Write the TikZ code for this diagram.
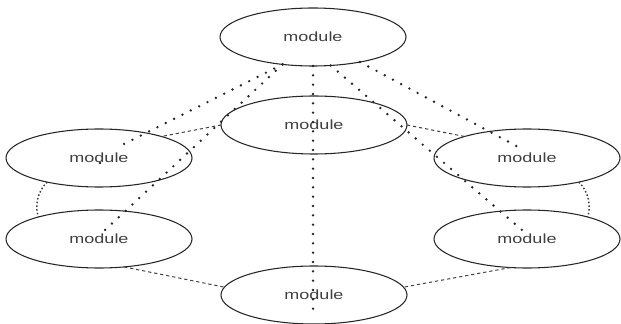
\documentclass[tikz,border=0pt]{standalone}
\usepackage{fontspec}
\setmainfont{Liberation Sans}[FakeStretch=1.35]
\usetikzlibrary{shapes.geometric}
\begin{document}
\begin{tikzpicture}[x=0.75pt,y=-0.75pt,
  mod/.style={ellipse, draw=black!85, line width=0.8pt, minimum width=139.5pt, minimum height=43.5pt, inner sep=0pt, outer sep=0pt, font=\fontsize{10}{12}\selectfont, text=black!75},
  bigdots/.style={line width=2pt, line cap=round, dash pattern=on 0pt off 7pt, draw=black!85},
  fdash/.style={line width=0.75pt, dash pattern=on 2.4pt off 2.2pt, draw=black!75},
  fdot/.style={line width=1.1pt, dash pattern=on 1.2pt off 1.6pt, draw=black!75}]
\useasboundingbox (0,0) rectangle (621,324);
\node[mod] (top) at (313,37) {module};
\node[mod] (mid) at (314,125) {module};
\node[mod] (lu) at (99,158) {module};
\node[mod] (ll) at (99,239) {module};
\node[mod] (ru) at (527,158) {module};
\node[mod] (rl) at (527,239) {module};
\node[mod] (bot) at (314,295) {module};
\coordinate (a1) at (122,145);
\coordinate (a2) at (100,163);
\coordinate (a3) at (100,171);
\coordinate (b1) at (105,230);
\coordinate (v1) at (313,310);
\coordinate (c1) at (520,148);
\coordinate (d1) at (522,230);
% dotted connectors from the top module
\draw[bigdots] (top.222) -- (a1);
\draw[bigdots] (a2) -- (a3);
\draw[bigdots] (top.222) -- (b1);
\draw[bigdots] (top.south) -- (v1);
\draw[bigdots] (top.332) -- (c1);
\draw[bigdots] (top.302) -- (d1);
% dashed ring
\draw[fdash] (mid.west) -- (lu.19);
\draw[fdash] (mid.east) -- (ru.161);
\draw[fdot] (lu.205) .. controls +(-10,9) and +(-4,-10) .. (ll.160);
\draw[fdot] (ru.335) .. controls +(10,9) and +(4,-10) .. (rl.20);
\draw[fdash] (ll.312) -- (bot.175);
\draw[fdash] (rl.240) -- (bot.5);
\end{tikzpicture}
\end{document}
